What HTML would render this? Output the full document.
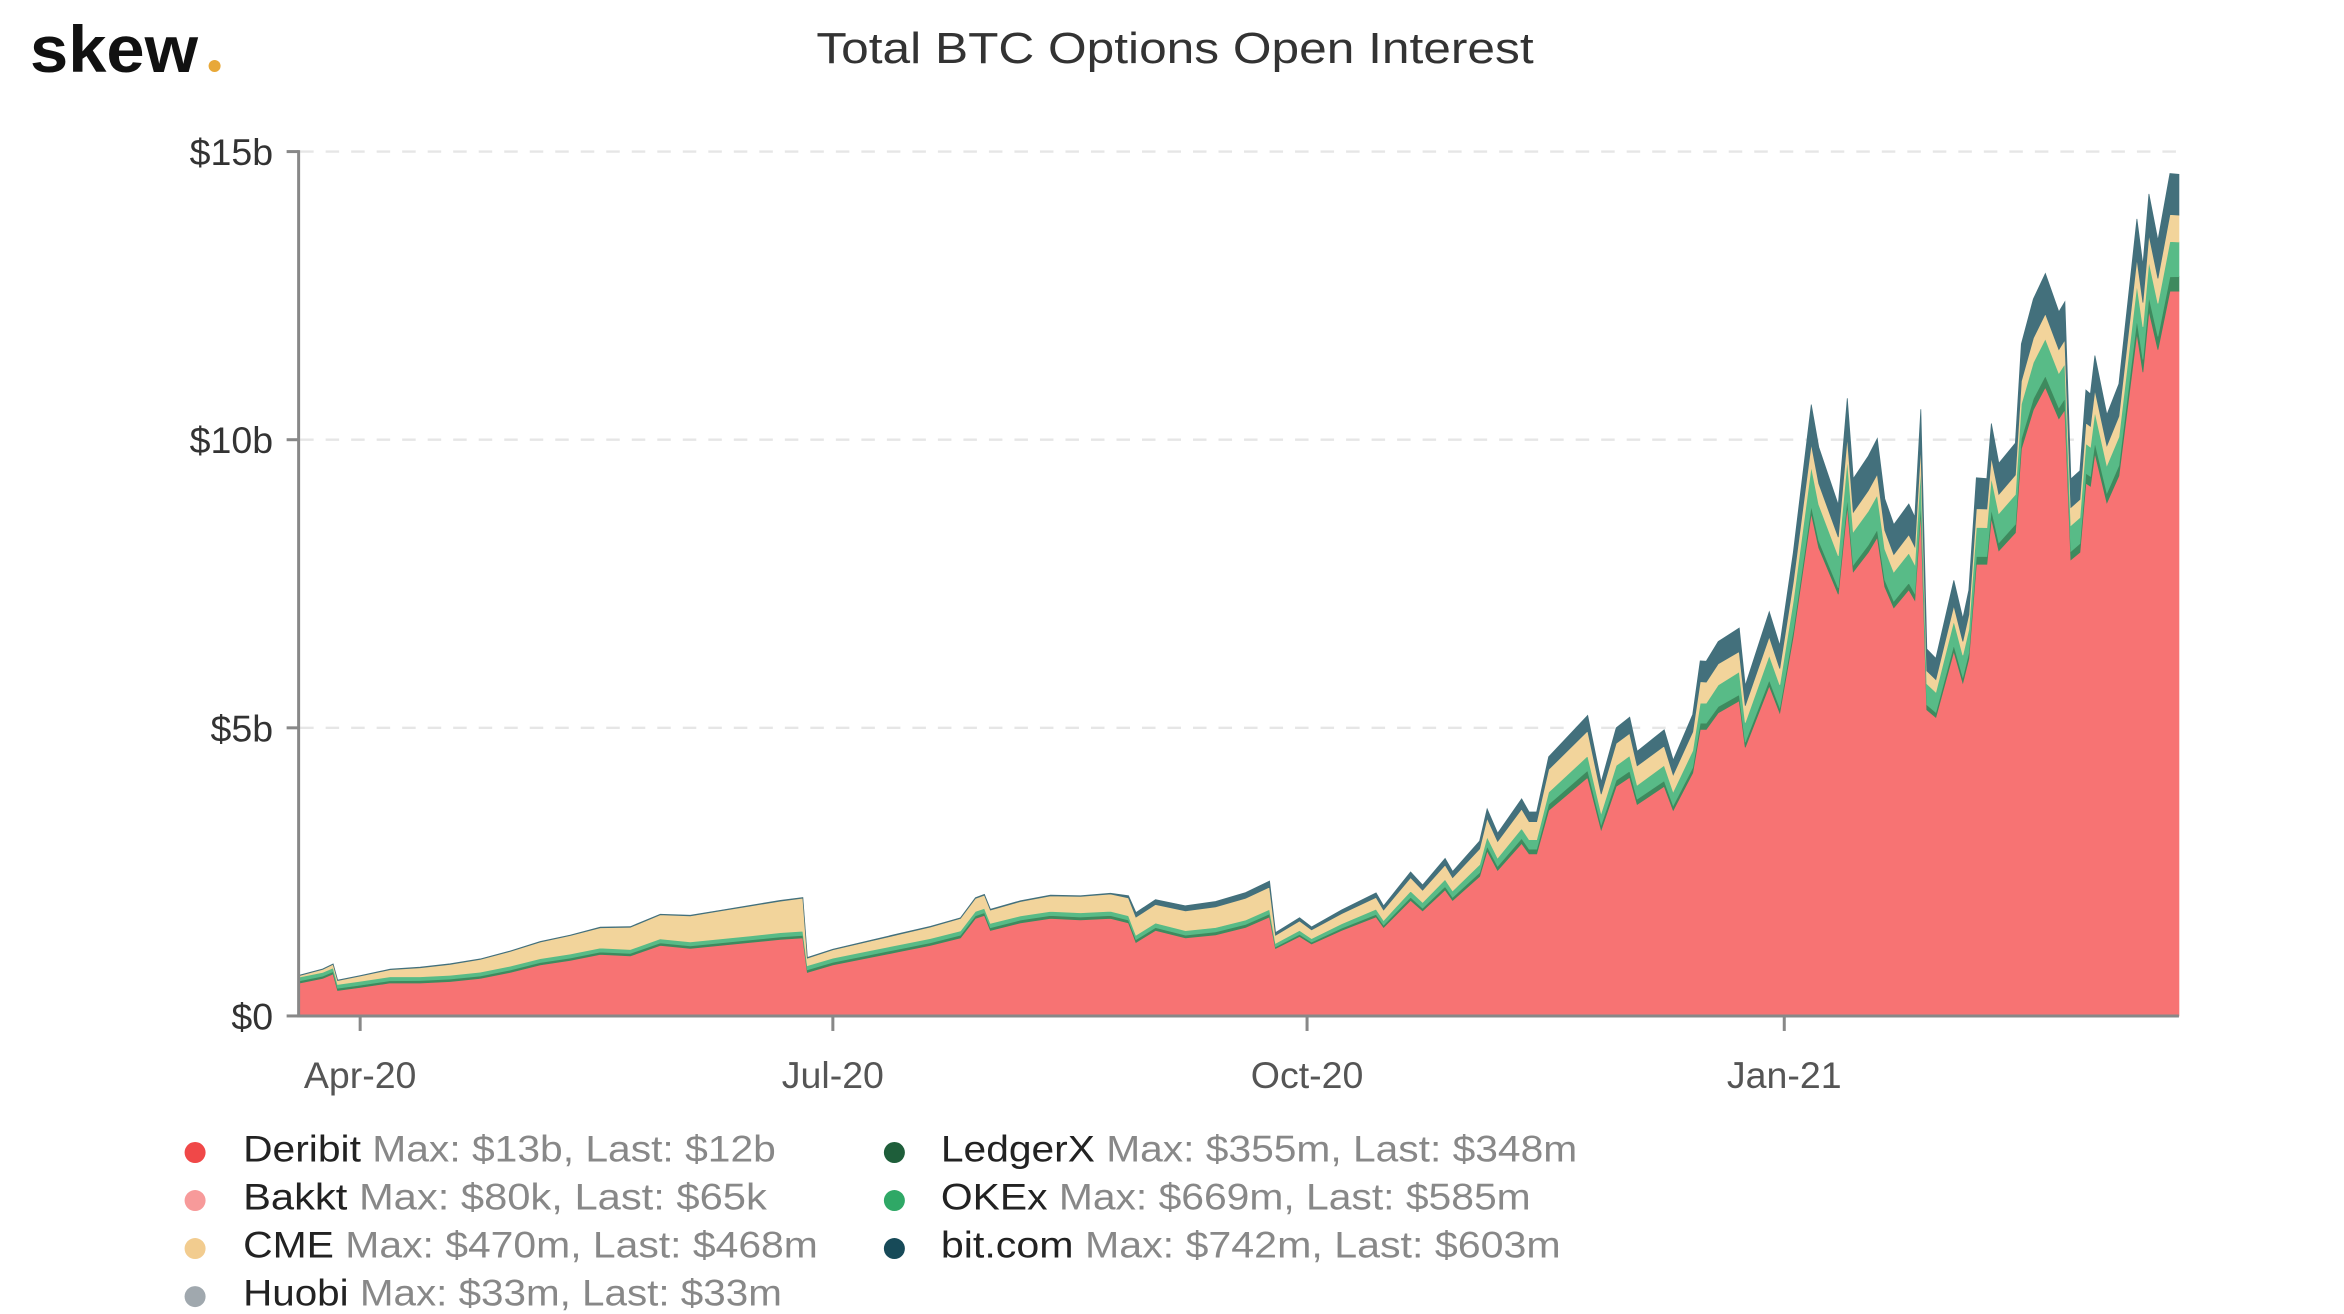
<!DOCTYPE html>
<html><head><meta charset="utf-8"><style>
html,body{margin:0;padding:0;background:#fff;}
svg{display:block;}
text{font-family:"Liberation Sans",sans-serif;}
</style></head><body>
<svg id="s" width="2344" height="1314" viewBox="0 0 1562 875.6" xmlns="http://www.w3.org/2000/svg">
<rect width="1562" height="876" fill="#fff"/>
<text x="20" y="48" font-size="44" font-weight="bold" fill="#111" textLength="112" lengthAdjust="spacingAndGlyphs">skew</text>
<circle cx="143" cy="44" r="4" fill="#e8a838"/>
<text x="783" y="42" font-size="29" fill="#333" text-anchor="middle" textLength="478" lengthAdjust="spacingAndGlyphs">Total BTC Options Open Interest</text>
<g stroke="#e6e6e6" stroke-width="1.6" stroke-dasharray="9,8">
<line x1="200" y1="101" x2="1452" y2="101"/>
<line x1="200" y1="293" x2="1452" y2="293"/>
<line x1="200" y1="485" x2="1452" y2="485"/>
</g>
<g font-size="25" fill="#333" text-anchor="end">
<text x="182" y="110">$15b</text>
<text x="182" y="302">$10b</text>
<text x="182" y="494">$5b</text>
<text x="182" y="686">$0</text>
</g>
<g id="areas"></g>
<g stroke="#888" stroke-width="2">
<line x1="199" y1="100" x2="199" y2="678"/>
<line x1="191" y1="101" x2="199" y2="101"/>
<line x1="191" y1="293" x2="199" y2="293"/>
<line x1="191" y1="485" x2="199" y2="485"/>
<line x1="191" y1="677" x2="199" y2="677"/>
<line x1="198" y1="677" x2="1452" y2="677"/>
<line x1="240" y1="677" x2="240" y2="687"/>
<line x1="555" y1="677" x2="555" y2="687"/>
<line x1="871" y1="677" x2="871" y2="687"/>
<line x1="1189" y1="677" x2="1189" y2="687"/>
</g>
<g font-size="25" fill="#555" text-anchor="middle">
<text x="240" y="725">Apr-20</text>
<text x="555" y="725">Jul-20</text>
<text x="871" y="725">Oct-20</text>
<text x="1189" y="725">Jan-21</text>
</g>
<g font-size="25">
<circle cx="130" cy="768" r="7" fill="#f04848"/>
<text x="162" y="774" textLength="355" lengthAdjust="spacingAndGlyphs"><tspan fill="#222">Deribit</tspan><tspan fill="#888"> Max: $13b, Last: $12b</tspan></text>
<circle cx="130" cy="800" r="7" fill="#f79a9a"/>
<text x="162" y="806" textLength="349" lengthAdjust="spacingAndGlyphs"><tspan fill="#222">Bakkt</tspan><tspan fill="#888"> Max: $80k, Last: $65k</tspan></text>
<circle cx="130" cy="832" r="7" fill="#f2cc8f"/>
<text x="162" y="838" textLength="383" lengthAdjust="spacingAndGlyphs"><tspan fill="#222">CME</tspan><tspan fill="#888"> Max: $470m, Last: $468m</tspan></text>
<circle cx="130" cy="864" r="7" fill="#a0a8ae"/>
<text x="162" y="870" textLength="359" lengthAdjust="spacingAndGlyphs"><tspan fill="#222">Huobi</tspan><tspan fill="#888"> Max: $33m, Last: $33m</tspan></text>
<circle cx="596" cy="768" r="7" fill="#1e5e3a"/>
<text x="627" y="774" textLength="424" lengthAdjust="spacingAndGlyphs"><tspan fill="#222">LedgerX</tspan><tspan fill="#888"> Max: $355m, Last: $348m</tspan></text>
<circle cx="596" cy="800" r="7" fill="#2fa866"/>
<text x="627" y="806" textLength="393" lengthAdjust="spacingAndGlyphs"><tspan fill="#222">OKEx</tspan><tspan fill="#888"> Max: $669m, Last: $585m</tspan></text>
<circle cx="596" cy="832" r="7" fill="#174a58"/>
<text x="627" y="838" textLength="413" lengthAdjust="spacingAndGlyphs"><tspan fill="#222">bit.com</tspan><tspan fill="#888"> Max: $742m, Last: $603m</tspan></text>
</g>
</svg>
<script>
var P=[[200,655],[215,652],[222,649],[225,660],[240,658],[260,655],[280,655],[300,654],[320,652],[340,648],[360,643],[380,640],[400,636],[420,637],[440,630],[460,632],[480,630],[500,628],[520,626],[535,625],[538,648],[555,643],[580,638],[600,634],[620,630],[640,625],[650,612],[656,610],[660,620],[680,615],[700,612],[720,613],[740,612],[752,615],[757,628],[770,620],[790,625],[810,623],[830,618],[846,611],[850,632],[866,624],[874,629],[894,620],[917,611],[922,618],[940,600],[948,607],[963,593],[968,600],[986,584],[991,567],[998,580],[1014,562],[1019,569],[1024,569],[1032,540],[1058,518],[1067,553],[1077,524],[1086,518],[1091,536],[1109,524],[1115,540],[1128,515],[1133,486],[1137,486],[1145,475],[1159,467],[1163,498],[1179,457],[1186,475],[1195,424],[1207,342],[1212,365],[1225,396],[1231,337],[1235,381],[1245,368],[1251,358],[1256,391],[1262,405],[1272,393],[1276,400],[1280,340],[1284,473],[1290,478],[1302,434],[1308,455],[1312,439],[1317,376],[1324,376],[1327,345],[1332,367],[1343,355],[1347,299],[1355,273],[1363,258],[1372,279],[1376,273],[1380,373],[1386,368],[1390,322],[1393,324],[1396,302],[1404,335],[1412,317],[1424,222],[1428,248],[1432,207],[1438,233],[1446,194],[1452,194]];
function interp(t,x){if(x<=t[0][0])return t[0][1];for(var i=0;i<t.length-1;i++){if(x<=t[i+1][0]){var a=t[i],b=t[i+1];return a[1]+(b[1]-a[1])*(x-a[0])/(b[0]-a[0]);}}return t[t.length-1][1];}
var L=[[200,1.5],[870,2]], Lf=[[870,.025],[1045,.03],[1207,.015],[1452,.02]];
var O=[[200,2.5],[870,3]], Of=[[870,.05],[1045,.06],[1207,.078],[1452,.048]];
var C=[[200,1],[535,22],[537,5],[848,15]], Cf=[[870,.12],[1045,.11],[1207,.045],[1452,.037]];
var B=[[200,0.3],[750,0.5],[756,3],[848,4]], Bf=[[870,.04],[1100,.07],[1207,.078],[1452,.056]];
var layers=[["#f77373",null,null],["#3e8a5e",L,Lf],["#58bb87",O,Of],["#f2d49b",C,Cf],["#43707c",B,Bf]];
var prev=P.map(function(){return 677;});
var g=document.getElementById('areas'),out='';
layers.forEach(function(ly,k){
 var cur=P.map(function(p,i){
   if(k==0)return p[1];
   var h=677-p[1];
   var t=p[0]<849?interp(ly[1],p[0]):interp(ly[2],p[0])*h;
   return prev[i]-t;});
 var d='M'+P[0][0]+','+cur[0];
 for(var i=1;i<P.length;i++)d+='L'+P[i][0]+','+cur[i].toFixed(1);
 for(var i=P.length-1;i>=0;i--)d+='L'+P[i][0]+','+prev[i].toFixed(1);
 out+='<path d="'+d+'Z" fill="'+ly[0]+'" stroke="'+ly[0]+'" stroke-width="0.5"/>';
 prev=cur;
});
g.innerHTML=out;
</script>
</body></html>
